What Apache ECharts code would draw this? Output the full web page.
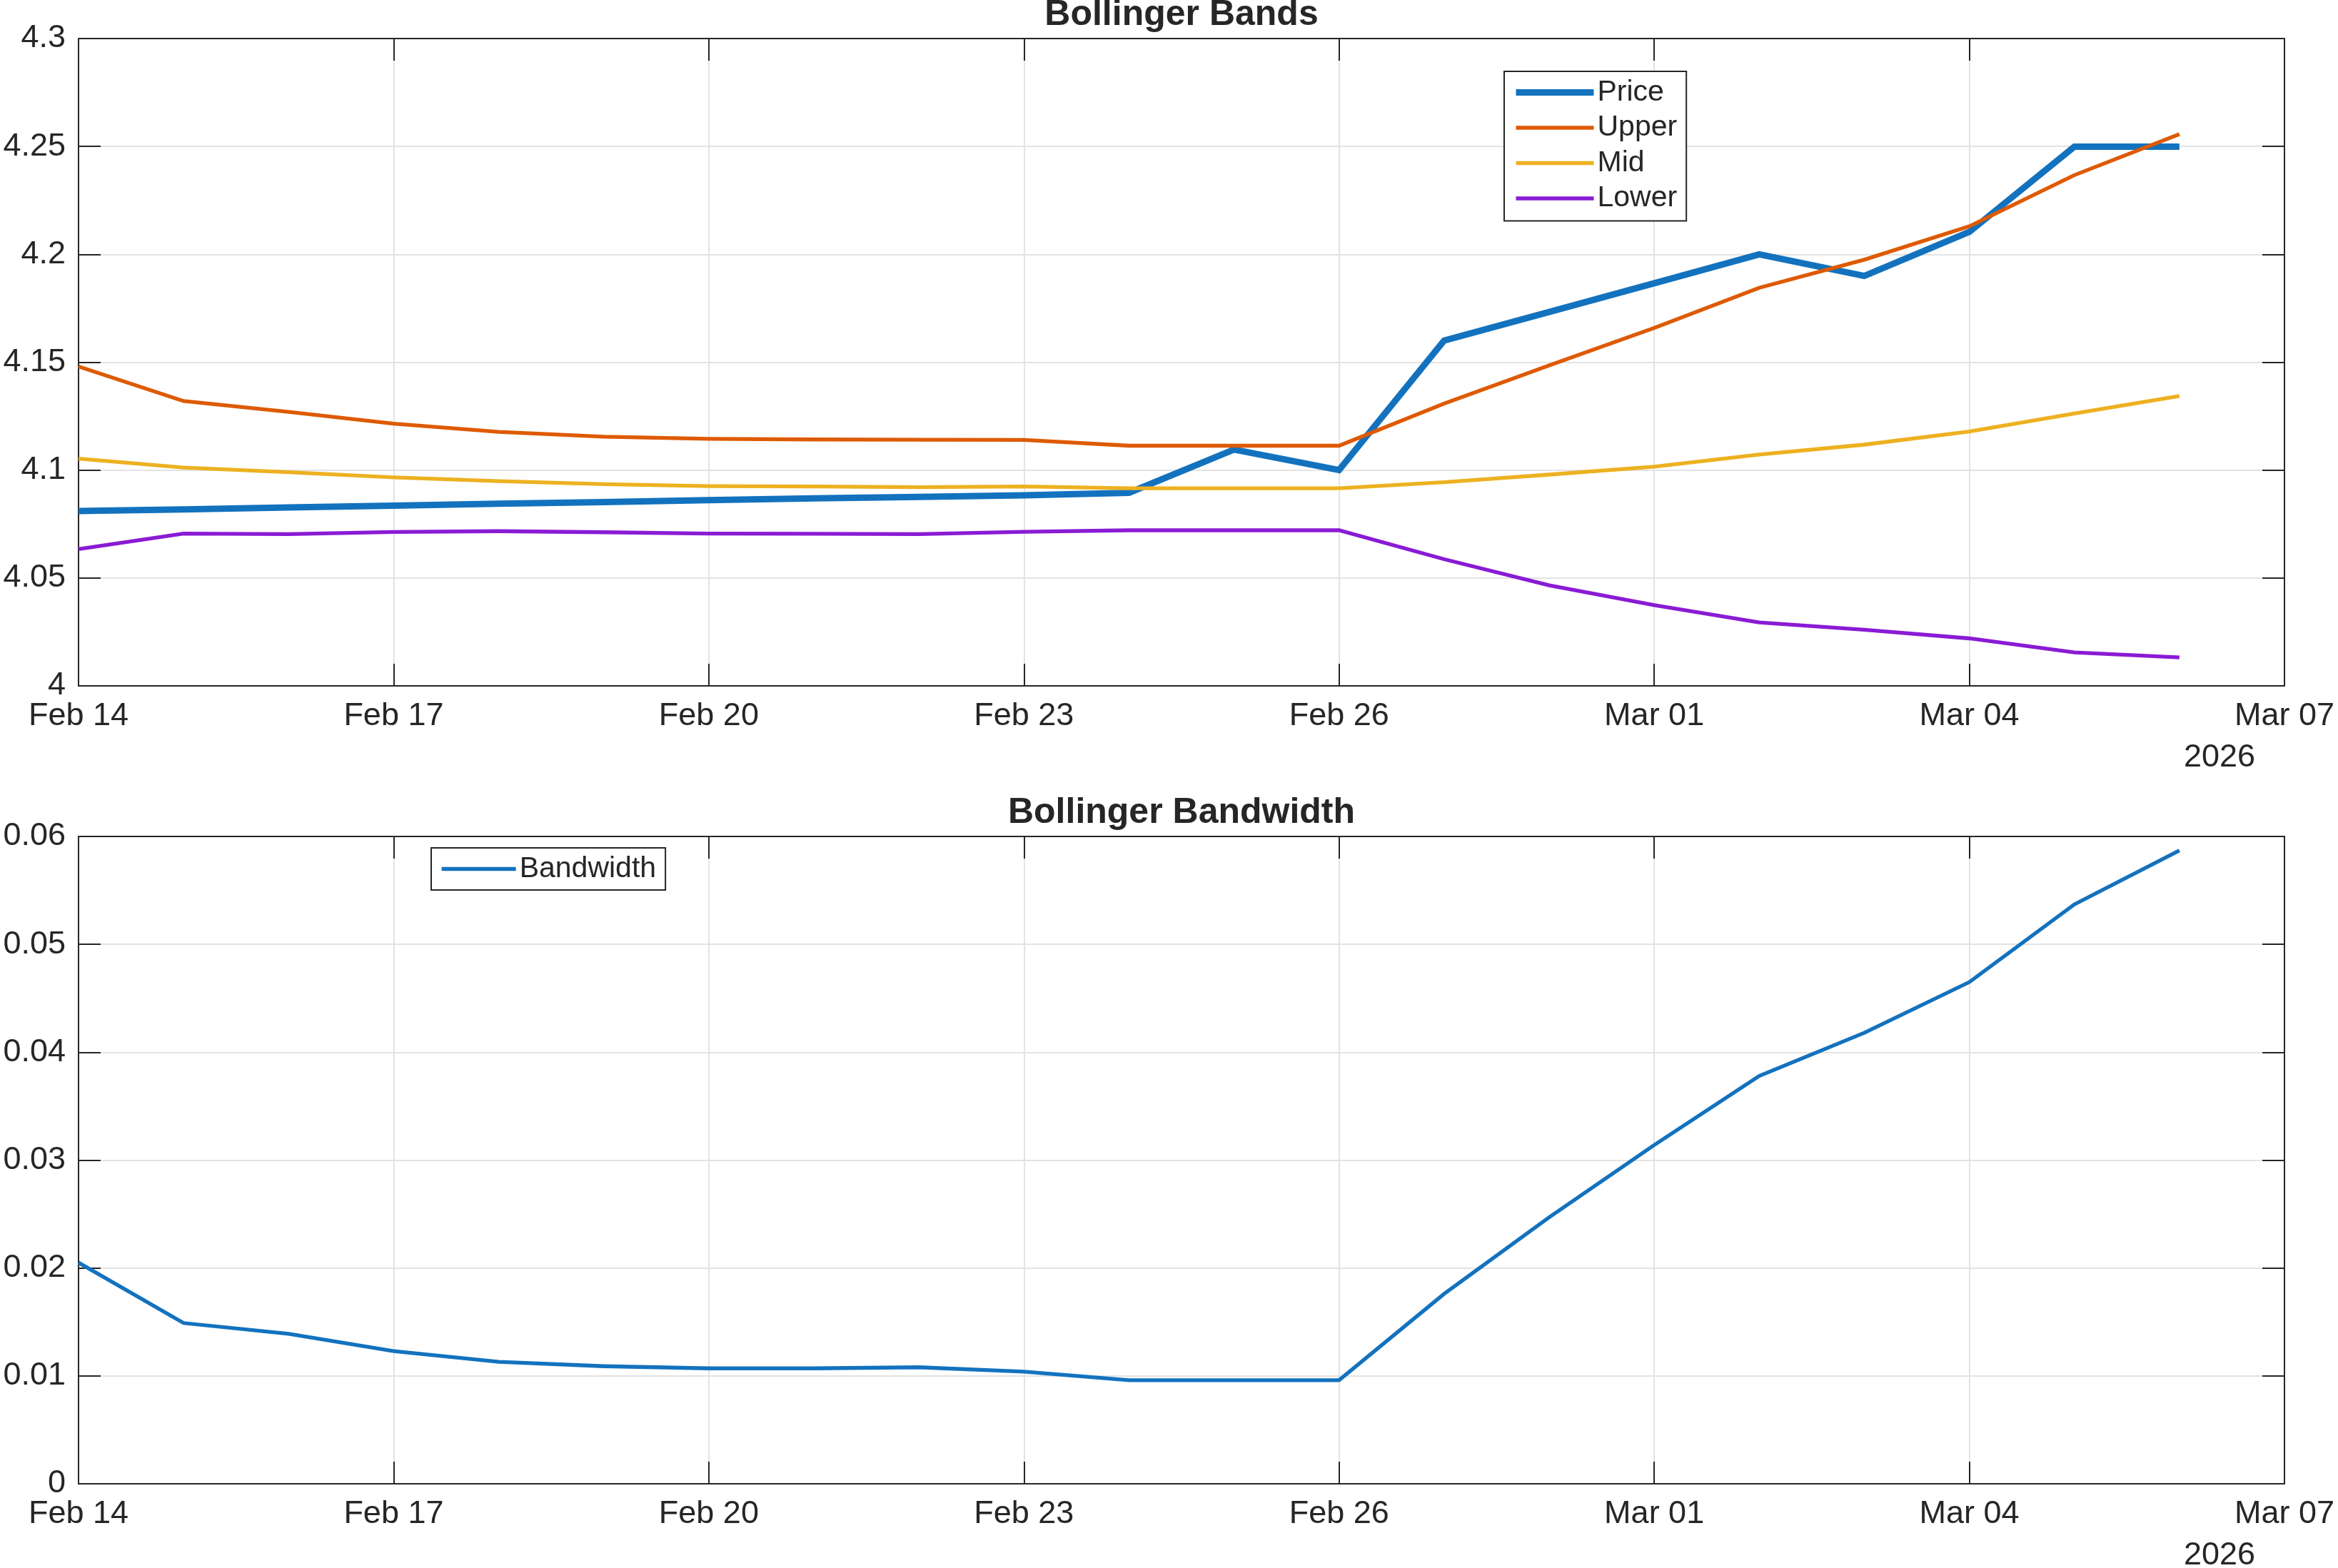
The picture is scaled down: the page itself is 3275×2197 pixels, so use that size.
<!DOCTYPE html>
<html>
<head>
<meta charset="utf-8">
<script src="https://cdn.jsdelivr.net/npm/echarts@6/dist/echarts.min.js"></script>
<style>
  html, body { margin: 0; padding: 0; background: #fff; }
  #main { width: 3275px; height: 2197px; }
</style>
</head>
<body>
<div id="main"></div>
<script>
// daily closes, Feb 14 - Mar 06 2026
var dates = ['2026-02-14', '2026-02-15', '2026-02-16', '2026-02-17', '2026-02-18', '2026-02-19', '2026-02-20',
    '2026-02-21', '2026-02-22', '2026-02-23', '2026-02-24', '2026-02-25', '2026-02-26', '2026-02-27',
    '2026-02-28', '2026-03-01', '2026-03-02', '2026-03-03', '2026-03-04', '2026-03-05', '2026-03-06'];
var price = [4.0810, 4.0818, 4.0827, 4.0835, 4.0844, 4.0852, 4.0861, 4.0869, 4.0876, 4.0883, 4.0895,
    4.1095, 4.1000, 4.1600, 4.1733, 4.1866, 4.2000, 4.1900, 4.2104, 4.2499, 4.2499];
var upper = [4.1480, 4.1320, 4.1270, 4.1215, 4.1177, 4.1155, 4.1145, 4.1142, 4.1141, 4.1140, 4.1113,
    4.1113, 4.1113, 4.1308, 4.1485, 4.1659, 4.1845, 4.1975, 4.2130, 4.2367, 4.2557];
var mid = [4.1053, 4.1012, 4.0990, 4.0966, 4.0949, 4.0935, 4.0926, 4.0924, 4.0921, 4.0924, 4.0916,
    4.0916, 4.0916, 4.0944, 4.0979, 4.1016, 4.1072, 4.1118, 4.1179, 4.1262, 4.1343];
var lower = [4.0634, 4.0706, 4.0703, 4.0713, 4.0717, 4.0712, 4.0706, 4.0705, 4.0703, 4.0714, 4.0721,
    4.0721, 4.0721, 4.0587, 4.0466, 4.0374, 4.0294, 4.0260, 4.0220, 4.0155, 4.0132];
var bandwidth = [0.0205, 0.0149, 0.0139, 0.0123, 0.0113, 0.0109, 0.0107, 0.0107, 0.0108, 0.0104, 0.0096,
    0.0096, 0.0096, 0.0176, 0.0247, 0.0314, 0.0378, 0.0418, 0.0465, 0.0537, 0.0587];
var yearLabel = '2026';

var MONTHS = ['Jan', 'Feb', 'Mar', 'Apr', 'May', 'Jun', 'Jul', 'Aug', 'Sep', 'Oct', 'Nov', 'Dec'];
var DAY = 86400000;
function toUTC(s) {
    var p = s.split('-');
    return Date.UTC(+p[0], +p[1] - 1, +p[2]);
}
var t0 = toUTC(dates[0]);
// x = days since first date
var xs = dates.map(function (d) { return (toUTC(d) - t0) / DAY; });
function pair(vals) {
    return vals.map(function (v, i) { return [xs[i], v]; });
}
function dayLabel(v) {
    var d = new Date(t0 + v * DAY);
    var dd = d.getUTCDate();
    return MONTHS[d.getUTCMonth()] + ' ' + (dd < 10 ? '0' + dd : dd);
}

var FONT = 'Liberation Sans, Arial, Helvetica, sans-serif';
var INK = '#262626';
var GRIDC = '#e3e3e3';

function xAxes(gi) {
    var base = {
        type: 'value', gridIndex: gi, min: 0, max: 21, interval: 3,
        axisLine: { show: true, onZero: false, lineStyle: { color: INK, width: 2 } },
        axisTick: { show: true, inside: true, length: 31, lineStyle: { color: INK, width: 2 } }
    };
    return [
        Object.assign({}, base, {
            position: 'bottom',
            axisLabel: { show: true, margin: 20, formatter: dayLabel, color: INK, fontSize: 45, fontFamily: FONT },
            splitLine: { show: true, lineStyle: { color: GRIDC, width: 2 } }
        }),
        Object.assign({}, base, {
            position: 'top',
            axisLabel: { show: false },
            splitLine: { show: false }
        })
    ];
}
function yAxes(gi, min, max, step) {
    var base = {
        type: 'value', gridIndex: gi, min: min, max: max, interval: step,
        axisLine: { show: true, onZero: false, lineStyle: { color: INK, width: 2 } },
        axisTick: { show: true, inside: true, length: 31, lineStyle: { color: INK, width: 2 } }
    };
    return [
        Object.assign({}, base, {
            position: 'left',
            axisLabel: { show: true, margin: 18, color: INK, fontSize: 45, fontFamily: FONT },
            splitLine: { show: true, lineStyle: { color: GRIDC, width: 2 } }
        }),
        Object.assign({}, base, {
            position: 'right',
            axisLabel: { show: false },
            splitLine: { show: false }
        })
    ];
}

function line(name, data, color, width, xi, yi) {
    return {
        name: name, type: 'line', data: pair(data),
        xAxisIndex: xi, yAxisIndex: yi,
        symbol: 'none', showSymbol: false, smooth: false,
        lineStyle: { color: color, width: width, cap: 'butt', join: 'miter' },
        itemStyle: { color: color },
        emphasis: { disabled: true }
    };
}

// legend: plain line sample, no marker dot
var legendBase = {
    orient: 'vertical',
    selectedMode: false,
    backgroundColor: '#fff', borderColor: INK, borderWidth: 2,
    itemHeight: 14,
    lineStyle: { width: 'inherit', cap: 'butt' },
    itemStyle: { opacity: 0, borderWidth: 0 },
    textStyle: { fontSize: 41, color: INK, fontFamily: FONT, lineHeight: 41 }
};

var myChart = echarts.init(document.getElementById('main'), null, { renderer: 'canvas' });
var option = {
    animation: false,
    backgroundColor: '#fff',
    title: [
        { text: 'Bollinger Bands', left: 1655, top: -4, textAlign: 'center', padding: 0,
          textStyle: { fontSize: 50, fontWeight: 'bold', color: INK, fontFamily: FONT, lineHeight: 50 } },
        { text: 'Bollinger Bandwidth', left: 1655, top: 1114, textAlign: 'center', padding: 0,
          textStyle: { fontSize: 50, fontWeight: 'bold', color: INK, fontFamily: FONT, lineHeight: 50 } }
    ],
    grid: [
        { left: 110, top: 54, width: 3090, height: 907 },
        { left: 110, top: 1172, width: 3090, height: 907 }
    ],
    legend: [
        Object.assign({}, legendBase, {
            data: ['Price', 'Upper', 'Mid', 'Lower'],
            left: 2107, top: 100,
            padding: [9, 13, 11, 12],
            itemWidth: 109, itemGap: 8.5
        }),
        Object.assign({}, legendBase, {
            data: ['Bandwidth'],
            left: 604, top: 1188,
            padding: [9, 13, 9, 12],
            itemWidth: 104
        })
    ],
    xAxis: xAxes(0).concat(xAxes(1)),
    yAxis: yAxes(0, 4, 4.3, 0.05).concat(yAxes(1, 0, 0.06, 0.01)),
    series: [
        line('Price', price, '#1372BE', 9, 0, 0),
        line('Upper', upper, '#DE5A00', 5.3, 0, 0),
        line('Mid', mid, '#EDB120', 5.3, 0, 0),
        line('Lower', lower, '#8A1BD4', 5.3, 0, 0),
        line('Bandwidth', bandwidth, '#1372BE', 5.3, 2, 2)
    ],
    graphic: [
        { type: 'text', x: 3109, y: 1062, silent: true,
          style: { text: yearLabel, fill: INK, font: '45px ' + FONT, textAlign: 'center', textVerticalAlign: 'middle' } },
        { type: 'text', x: 3109, y: 2180, silent: true,
          style: { text: yearLabel, fill: INK, font: '45px ' + FONT, textAlign: 'center', textVerticalAlign: 'middle' } }
    ]
};
myChart.setOption(option);
</script>
</body>
</html>
